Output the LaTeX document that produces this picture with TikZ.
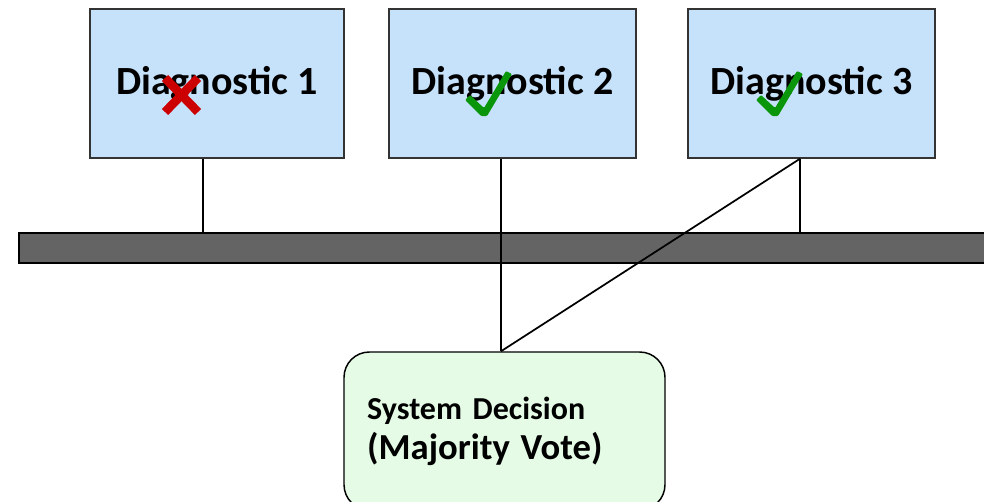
\documentclass[tikz,border=0pt]{standalone}
\usepackage{fontspec}
\setmainfont{Carlito}
\usetikzlibrary{positioning,calc}

\definecolor{diagblue}{HTML}{C6E2FA}
\definecolor{votegreen}{HTML}{E6FBE6}
\definecolor{busgray}{HTML}{646464}
\definecolor{okgreen}{HTML}{0A960A}
\definecolor{badred}{HTML}{CC0000}

% tick mark, drawn from its bottom tip
\newcommand{\tickmark}[1]{%
  \fill[okgreen, rounded corners=0.8pt, shift={(#1)}]
    (-19,-15) -- (-14,-20) -- (0,-7) -- (22,-44) -- (28,-41) -- (3,1) -- (-3,1) -- cycle;}

\begin{document}
\begin{tikzpicture}[x=0.75pt, y=-0.75pt,
    diag/.style={draw=black!80, line width=1.1pt, fill=diagblue, inner sep=0pt,
      minimum height=111.75pt, font=\fontsize{30}{36}\selectfont\bfseries},
    vote/.style={draw=black, line width=1.1pt, fill=votegreen, rounded corners=19pt,
      minimum width=240.75pt, minimum height=118.5pt, inner sep=0pt,
      text width=206pt, align=left, font=\fontsize{24}{32}\selectfont\bfseries},
    wire/.style={line width=1.3pt}]
    \clip (0,0) rectangle (984,501);
    % Bus
    \node (bus) [draw=black, line width=1.4pt, fill=busgray, inner sep=0pt,
      minimum width=735.75pt, minimum height=22.5pt] at (509.5,248) {};
    % Diagnostics
    \node (d1) [diag, minimum width=190.5pt] at (217,83.5) {Diagnostic 1};
    \node (d2) [diag, minimum width=185.25pt] at (512.5,83.5) {Diagnostic 2};
    \node (d3) [diag, minimum width=185.25pt] at (811.5,83.5) {Diagnostic 3};
    % Decision
    \node (dec) [vote] at (504.5,431)
      {System Decision\\[-2pt]{\fontsize{27.5}{33}\selectfont(Majority Vote)}};
    % Wires
    \coordinate (t1) at ($(d1.south)+(-14,0)$);
    \coordinate (t2) at ($(d2.south)+(-11.5,0)$);
    \coordinate (t3) at ($(d3.south)+(-11.5,0)$);
    \coordinate (v) at (t2 |- dec.north);
    \draw [wire] (t1) -- (t1 |- bus.north);
    \draw [wire] (t3) -- (t3 |- bus.north);
    \draw [wire] (t2) -- (v);
    \draw [wire] (t3) -- (v);
    % Marks
    \draw [badred, line width=6.5pt] (165,78) -- (198,112) (165,112) -- (198,78);
    \tickmark{484,115}
    \tickmark{775,115}
\end{tikzpicture}
\end{document}
